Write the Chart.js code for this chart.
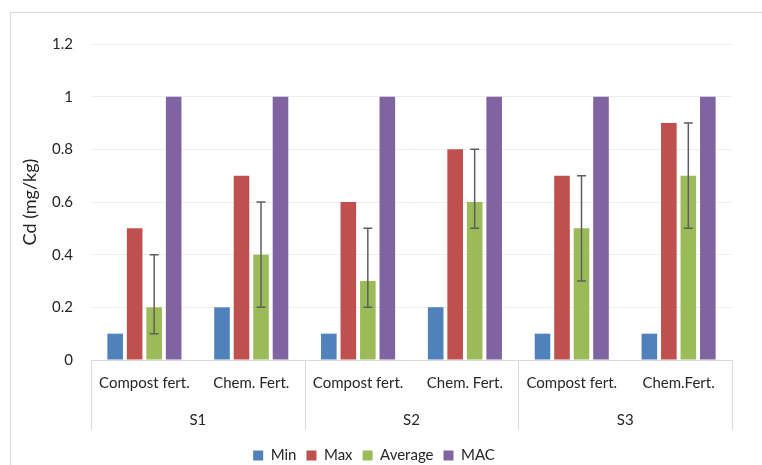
<!DOCTYPE html>
<html>
<head>
<meta charset="utf-8">
<script src="https://cdn.jsdelivr.net/npm/chart.js@4"></script>
<style>
  html, body { margin: 0; padding: 0; background: #fff; overflow: hidden; }
  #frame { position: absolute; left: 10px; top: 12px; width: 800px; height: 500px; border: 1px solid #d9d9d9; }
  #wrap { position: absolute; left: 0; top: 0; width: 782px; height: 473px; }
</style>
</head>
<body>
<div id="frame"></div>
<div id="wrap"><canvas id="chart"></canvas></div>
<script>
// data
const categories = ['Compost fert.', 'Chem. Fert.', 'Compost fert.', 'Chem. Fert.', 'Compost fert.', 'Chem.Fert.'];
const sites = ['S1', 'S2', 'S3'];
const minVals = [0.1, 0.2, 0.1, 0.2, 0.1, 0.1];
const maxVals = [0.5, 0.7, 0.6, 0.8, 0.7, 0.9];
const avgVals = [0.2, 0.4, 0.3, 0.6, 0.5, 0.7];
const macVals = [1, 1, 1, 1, 1, 1];
// error bar ends for Average
const avgLow = [0.1, 0.2, 0.2, 0.5, 0.3, 0.5];
const avgHigh = [0.4, 0.6, 0.5, 0.8, 0.7, 0.9];
const yTicks = [0, 0.2, 0.4, 0.6, 0.8, 1, 1.2];

const FONT = 'Lato, "Open Sans", sans-serif';
const TXT = '#262626';

// error bars on the Average series
const errorBars = {
    id: 'errorBars',
    afterDatasetsDraw(chart) {
        const meta = chart.getDatasetMeta(2);
        const y = chart.scales.y;
        const ctx = chart.ctx;
        ctx.save();
        ctx.strokeStyle = '#5f5f5f';
        ctx.lineWidth = 1.5;
        meta.data.forEach((bar, i) => {
            const yLo = y.getPixelForValue(avgLow[i]);
            const yHi = y.getPixelForValue(avgHigh[i]);
            ctx.beginPath();
            ctx.moveTo(bar.x, yLo);
            ctx.lineTo(bar.x, yHi);
            ctx.moveTo(bar.x - 4.5, yLo);
            ctx.lineTo(bar.x + 4.5, yLo);
            ctx.moveTo(bar.x - 4.5, yHi);
            ctx.lineTo(bar.x + 4.5, yHi);
            ctx.stroke();
        });
        ctx.restore();
    }
};

// vertical dividers between site groups under the axis
const groupLines = {
    id: 'groupLines',
    afterDraw(chart) {
        const x = chart.scales.x;
        const ctx = chart.ctx;
        const step = (x.right - x.left) / categories.length;
        ctx.save();
        ctx.strokeStyle = '#d9d9d9';
        ctx.lineWidth = 1;
        for (let i = 0; i <= categories.length; i += 2) {
            const px = Math.round(x.left + i * step) + 0.5;
            ctx.beginPath();
            ctx.moveTo(px, chart.chartArea.bottom);
            ctx.lineTo(px, chart.chartArea.bottom + 70);
            ctx.stroke();
        }
        ctx.restore();
    }
};

const barOpts = { categoryPercentage: 0.73, barPercentage: 0.8, borderWidth: 0 };

new Chart(document.getElementById('chart'), {
    type: 'bar',
    data: {
        labels: categories,
        datasets: [
            { label: 'Min', data: minVals, backgroundColor: '#4f81bd', ...barOpts },
            { label: 'Max', data: maxVals, backgroundColor: '#c0504d', ...barOpts },
            { label: 'Average', data: avgVals, backgroundColor: '#9bbb59', ...barOpts },
            { label: 'MAC', data: macVals, backgroundColor: '#8064a2', ...barOpts }
        ]
    },
    options: {
        responsive: true,
        maintainAspectRatio: false,
        animation: false,
        layout: { padding: { left: 16, top: 44, right: 50, bottom: 0 } },
        plugins: {
            legend: {
                position: 'bottom',
                labels: {
                    boxWidth: 10,
                    boxHeight: 10,
                    padding: 10,
                    color: TXT,
                    font: { family: FONT, size: 15 }
                }
            },
            tooltip: { enabled: false }
        },
        scales: {
            x: {
                grid: { display: false },
                border: { color: '#d9d9d9' },
                ticks: { color: TXT, padding: 6, maxRotation: 0, autoSkip: false, font: { family: FONT, size: 15 } },
                afterFit(scale) { scale.height = 40; }
            },
            x2: {
                type: 'category',
                labels: sites,
                position: 'bottom',
                offset: true,
                grid: { display: false },
                border: { display: false },
                ticks: { color: TXT, padding: 3, font: { family: FONT, size: 15 } },
                afterFit(scale) { scale.height = 38; }
            },
            y: {
                min: 0,
                max: 1.2,
                afterBuildTicks(scale) { scale.ticks = yTicks.map(v => ({ value: v })); },
                grid: { color: '#ededed', drawTicks: false },
                border: { display: false },
                ticks: { color: TXT, padding: 18, font: { family: FONT, size: 15 }, callback: v => String(v) },
                title: {
                    display: true,
                    text: 'Cd (mg/kg)',
                    color: TXT,
                    padding: { top: 3, bottom: 0 },
                    font: { family: FONT, size: 18 }
                },
                afterFit(scale) { scale.width = 75; }
            }
        }
    },
    plugins: [errorBars, groupLines]
});
</script>
</body>
</html>
